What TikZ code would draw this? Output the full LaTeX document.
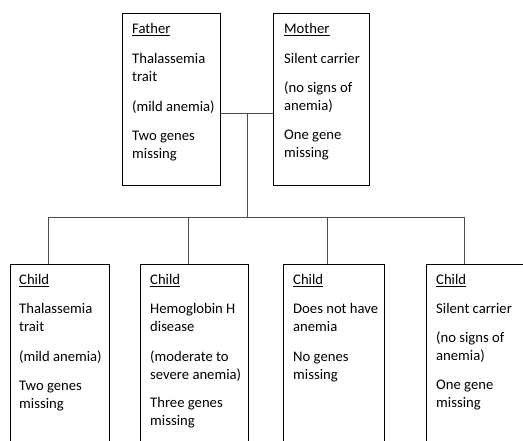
\documentclass[tikz,border=0pt]{standalone}
\usepackage{fontspec}
\setmainfont{Carlito}
\begin{document}
\begin{tikzpicture}[x=1pt,y=-1pt,
  box/.style={draw=black, line width=0.9pt, inner sep=0pt, anchor=north west},
  txt/.style={anchor=north west, align=left, inner sep=0pt, yshift=12.6pt, font=\fontsize{14.67}{18}\selectfont},
  link/.style={draw=black!70, line width=0.9pt}]
\useasboundingbox (0,0) rectangle (523,441);
\clip (0,0) rectangle (523,441);
% boxes
\node[box, minimum width=98pt, minimum height=172pt] (father) at (122,13) {};
\node[box, minimum width=96pt, minimum height=172pt] (mother) at (273,13) {};
\node[box, minimum width=99pt, minimum height=200pt] (c1) at (10,264) {};
\node[box, minimum width=108pt, minimum height=200pt] (c2) at (140,264) {};
\node[box, minimum width=101pt, minimum height=200pt] (c3) at (283,264) {};
\node[box, minimum width=120pt, minimum height=200pt] (c4) at (426,264) {};
% texts (positions are first baselines)
\node[txt] (tf) at (132,33) {\strut\underline{Father}\\[12pt]Thalassemia\\trait\\[12pt](mild anemia)\\[11pt]Two genes\\missing};
\node[txt] (tm) at (284,33) {\strut\underline{Mother}\\[12pt]Silent carrier\\[11pt](no signs of\\anemia)\\[11pt]One gene\\missing};
\node[txt] (t1) at (19,284) {\strut\underline{Child}\\[11pt]Thalassemia\\trait\\[12pt](mild anemia)\\[11pt]Two genes\\missing};
\node[txt] (t2) at (150,284) {\strut\underline{Child}\\[11pt]Hemoglobin H\\disease\\[12pt](moderate to\\severe anemia)\\[10pt]Three genes\\missing};
\node[txt] (t3) at (293,284) {\strut\underline{Child}\\[11pt]Does not have\\anemia\\[12pt]No genes\\missing};
\node[txt] (t4) at (436,284) {\strut\underline{Child}\\[11pt]Silent carrier\\[11pt](no signs of\\anemia)\\[11pt]One gene\\missing};
% connectors
\coordinate (j) at (247,113);
\coordinate (bar) at (247,217);
\coordinate (d1) at (48,217);
\coordinate (d2) at (188,217);
\coordinate (d3) at (327,217);
\coordinate (d4) at (464,217);
\draw[link] (father.east |- j) -- (mother.west |- j);
\draw[link] (j) -- (bar);
\draw[link] (d1) -- (d4);
\draw[link] (d1) -- (d1 |- c1.north);
\draw[link] (d2) -- (d2 |- c2.north);
\draw[link] (d3) -- (d3 |- c3.north);
\draw[link] (d4) -- (d4 |- c4.north);
\end{tikzpicture}
\end{document}
